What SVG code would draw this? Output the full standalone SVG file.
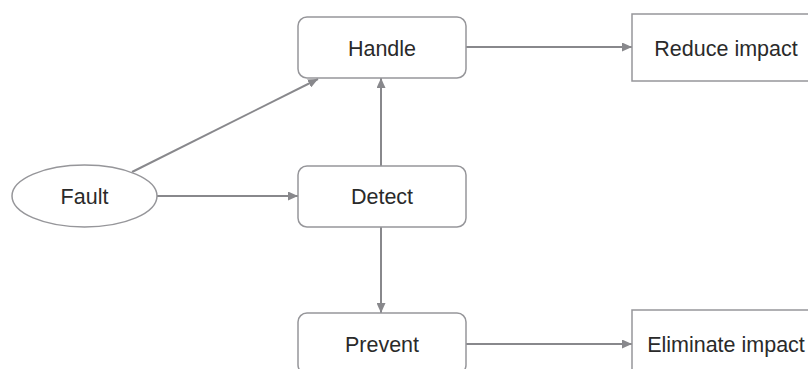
<svg xmlns="http://www.w3.org/2000/svg" width="808" height="369" viewBox="0 0 808 369">
<defs>
<style>
.box{fill:#fff;stroke:#96969a;stroke-width:1.5}
.lbl{font-family:"Liberation Sans",Arial,sans-serif;font-size:21.5px;fill:#2a2a2a;text-anchor:middle}
.edge{stroke:#88888c;stroke-width:2;fill:none}
</style>
<marker id="ah" markerUnits="userSpaceOnUse" markerWidth="11" markerHeight="9" refX="10" refY="4.5" orient="auto">
<path d="M0,0 L10,4.5 L0,9 z" fill="#88888c"/>
</marker>
</defs>
<rect width="808" height="369" fill="#fff"/>
<g id="connectors">
<line class="edge" x1="132" y1="172" x2="318" y2="79" marker-end="url(#ah)"/>
<line class="edge" x1="157" y1="196" x2="298" y2="196" marker-end="url(#ah)"/>
<line class="edge" x1="381" y1="166" x2="381" y2="78" marker-end="url(#ah)"/>
<line class="edge" x1="381" y1="227" x2="381" y2="313" marker-end="url(#ah)"/>
<line class="edge" x1="466" y1="47" x2="632" y2="47" marker-end="url(#ah)"/>
<line class="edge" x1="466" y1="344" x2="632" y2="344" marker-end="url(#ah)"/>
</g>
<g id="fault">
<ellipse class="box" cx="84.5" cy="196" rx="72.5" ry="31"/>
<text class="lbl" x="84.5" y="204">Fault</text>
</g>
<g id="handle">
<rect class="box" x="298" y="17" width="168" height="61" rx="9"/>
<text class="lbl" x="382" y="55.5">Handle</text>
</g>
<g id="detect">
<rect class="box" x="298" y="166" width="168" height="61" rx="9"/>
<text class="lbl" x="382" y="204">Detect</text>
</g>
<g id="prevent">
<rect class="box" x="298" y="313" width="168" height="61" rx="9"/>
<text class="lbl" x="382" y="351.5">Prevent</text>
</g>
<g id="reduce">
<rect class="box" x="632" y="14" width="190" height="67"/>
<text class="lbl" x="726" y="55.5">Reduce impact</text>
</g>
<g id="eliminate">
<rect class="box" x="632" y="310" width="190" height="67"/>
<text class="lbl" x="726" y="352">Eliminate impact</text>
</g>
</svg>
